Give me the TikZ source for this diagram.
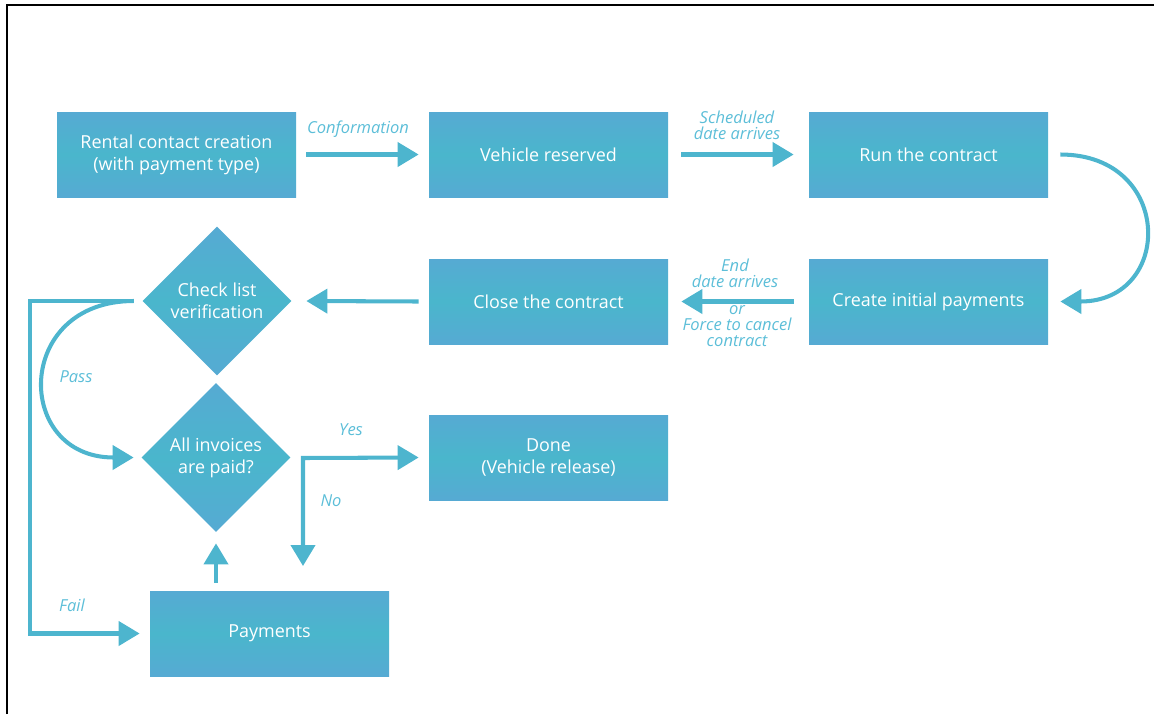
\documentclass[tikz,border=0pt]{standalone}
\usepackage{fontspec}
\setmainfont{Open Sans}
\usepackage{tikz}
\usetikzlibrary{shapes.geometric,arrows.meta}
\definecolor{boxedge}{RGB}{86,170,211}
\definecolor{boxmid}{RGB}{74,182,204}
\definecolor{flowblue}{RGB}{77,181,206}
\definecolor{lblblue}{RGB}{92,190,216}

\begin{document}
\begin{tikzpicture}[
  >={Triangle[length=0.42cm,width=0.48cm]},
  box/.style={rectangle, minimum width=4.78cm, minimum height=1.7cm, inner sep=0pt,
    top color=boxedge, bottom color=boxedge, middle color=boxmid,
    text=white, align=center, font=\fontsize{10.2}{12.5}\selectfont},
  decision/.style={diamond, minimum width=2.98cm, minimum height=2.98cm, inner sep=0pt,
    top color=boxedge, bottom color=boxedge, middle color=boxmid,
    text=white, align=center, font=\fontsize{10.2}{12.5}\selectfont},
  flow/.style={->, draw=flowblue, line width=2.3pt},
  lbl/.style={text=lblblue, align=center, inner sep=0pt,
    font=\fontsize{9.4}{9.2}\selectfont\itshape}
]
\useasboundingbox (0,0) rectangle (23.08,-14.28);
% Frame
\draw[line width=1.2pt] (0.14,-14.28) -- (0.14,-0.1) -- (23.08,-0.1);
% Boxes
\node[box] (rental) at (3.53,-3.09) {Rental contact creation\\(with payment type)};
\node[box] (reserved) at (10.97,-3.09) {Vehicle reserved};
\node[box] (run) at (18.57,-3.09) {Run the contract};
\node[box] (initpay) at (18.57,-6.03) {Create initial payments};
\node[box] (close) at (10.97,-6.03) {Close the contract};
\node[decision] (check) at (4.34,-6.02) {Check list\\verification};
\node[decision] (invoices) at (4.32,-9.15) {All invoices\\are paid?};
\node[box] (done) at (10.97,-9.15) {Done\\(Vehicle release)};
\node[box] (pay) at (5.39,-12.67) {Payments};
\coordinate (yn) at (6.06,-9.16);
\coordinate (nopt) at (6.06,-11.32);
% Arrows
\draw[flow] ([xshift=0.2cm]rental.east) -- ([xshift=-0.2cm]reserved.west);
\draw[flow] ([xshift=0.26cm]reserved.east) -- ([xshift=-0.3cm]run.west);
\draw[flow] ([xshift=0.24cm]run.east) .. controls +(2.27,0) and +(2.27,0) .. ([xshift=0.24cm]initpay.east);
\draw[flow] ([xshift=-0.3cm]initpay.west) -- ([xshift=0.26cm]close.east);
\draw[flow] ([xshift=-0.2cm]close.west) -- ([xshift=0.29cm]check.east);
\draw[flow] ([xshift=-0.17cm]check.west) .. controls +(-2.4,0) and +(-2.4,0) .. ([xshift=-0.15cm]invoices.west);
\draw[flow] ([xshift=-0.17cm]check.west) -- ++(-2.08,0) |- ([xshift=-0.2cm]pay.west);
\draw[flow,<->] (nopt) -- (yn) -- ([xshift=-0.2cm]done.west);
\draw[flow] ([yshift=0.16cm]invoices.south |- pay.north) -- ([yshift=-0.22cm]invoices.south);
% Labels
\node[lbl] (conf) at (7.16,-2.58) {Conformation};
\node[lbl] (sched) at (14.74,-2.5) {Scheduled\\date arrives};
\node[lbl] (enddate) at (14.7,-5.46) {End\\date arrives};
\node[lbl] (cancel) at (14.74,-6.52) {or\\Force to cancel\\contract};
\node[lbl] (pass) at (1.52,-7.54) {Pass};
\node[lbl] (fail) at (1.44,-12.1) {Fail};
\node[lbl] (yes) at (7.02,-8.6) {Yes};
\node[lbl] (no) at (6.62,-10.02) {No};
\end{tikzpicture}
\end{document}
